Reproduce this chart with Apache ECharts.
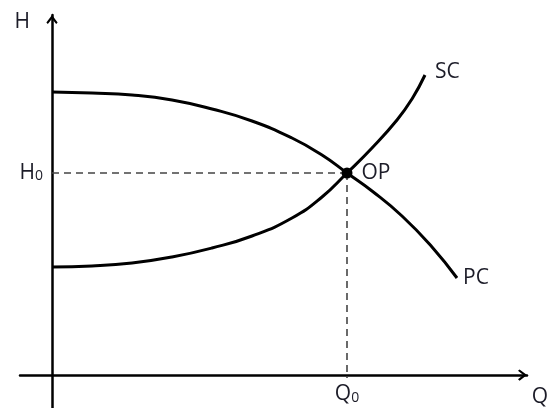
<!DOCTYPE html>
<html>
<head>
<meta charset="utf-8">
<script src="https://cdn.jsdelivr.net/npm/echarts@6/dist/echarts.min.js"></script>
<style>html,body{margin:0;padding:0;background:#fff}#c{width:552px;height:408px}</style>
</head>
<body>
<div id="c"></div>
<script>
// Flow Q (x) vs head H (y), arbitrary units
const pumpCurve = [[0,283],[40,282],[80,280],[120,275],[160,266],[200,254],[240,237],[270,220],[295,202],[320,184],[350,159],[380,128],[405,97]];
const systemCurve = [[0,108],[40,109],[80,112],[120,118],[160,127],[200,139],[240,157],[270,178],[295,202],[320,227],[345,255],[360,276],[373,300]];
const operatingPoint = [295, 202];
const labels = {H:'H', Q:'Q', H0:['H','0'], Q0:['Q','0'], OP:'OP', SC:'SC', PC:'PC'};

const FONT = 'Open Sans';
const TXT = '#1c1c28';
const FS = 21;
const arrow = 'path://M5,0 L10,6.6 L8.7,8 L5,3.3 L1.3,8 L0,6.6 Z';
const subRich = {
  m: {fontFamily: FONT, fontSize: FS, color: TXT},
  s: {fontFamily: FONT, fontSize: 14, color: TXT, padding: [7,0,0,0]}
};
const axisLine = {onZero: true, symbol: ['none', arrow], symbolSize: [13, 9], symbolOffset: [0, -4.5],
  lineStyle: {color: '#000', width: 2.5}};

const chart = echarts.init(document.getElementById('c'));
chart.setOption({
  animation: false,
  backgroundColor: '#fff',
  grid: {left: 20, right: 25, top: 15, bottom: 0, outerBoundsMode: 'none', containLabel: false},
  xAxis: {
    type: 'value', min: -32, max: 475,
    name: labels.Q, nameLocation: 'end', nameGap: 13,
    nameTextStyle: {fontFamily: FONT, fontSize: FS, color: TXT, align: 'center', verticalAlign: 'top', padding: [12,0,0,0]},
    axisLine: axisLine,
    axisTick: {show: false},
    axisLabel: {show: true, customValues: [operatingPoint[0]], margin: -24,
      formatter: () => '{m|' + labels.Q0[0] + '}{s|' + labels.Q0[1] + '}', rich: subRich},
    splitLine: {show: false}
  },
  yAxis: {
    type: 'value', min: -33, max: 360,
    name: labels.H, nameLocation: 'end', nameGap: -7,
    nameTextStyle: {fontFamily: FONT, fontSize: FS, color: TXT, align: 'right', verticalAlign: 'middle', padding: [0,22,0,0]},
    axisLine: axisLine,
    axisTick: {show: false},
    axisLabel: {show: true, customValues: [operatingPoint[1]], margin: -23,
      formatter: () => '{m|' + labels.H0[0] + '}{s|' + labels.H0[1] + '}', rich: subRich},
    splitLine: {show: false}
  },
  series: [
    {type: 'line', name: 'PC', data: pumpCurve, smooth: 0.5, symbol: 'none',
      lineStyle: {color: '#000', width: 3}, z: 3,
      endLabel: {show: true, formatter: labels.PC, distance: 6, fontFamily: FONT, fontSize: FS, color: TXT}},
    {type: 'line', name: 'SC', data: systemCurve, smooth: 0.5, symbol: 'none',
      lineStyle: {color: '#000', width: 3}, z: 3,
      endLabel: {show: true, formatter: labels.SC, distance: 10, offset: [0,-3], fontFamily: FONT, fontSize: FS, color: TXT}},
    {type: 'line', data: [[0, operatingPoint[1]], operatingPoint], symbol: 'none',
      lineStyle: {color: '#444', width: 1.6, type: [7,5]}, z: 2},
    {type: 'line', data: [operatingPoint, [operatingPoint[0], -3]], symbol: 'none',
      lineStyle: {color: '#444', width: 1.6, type: [7,5]}, z: 2},
    {type: 'scatter', data: [operatingPoint], symbolSize: 11, itemStyle: {color: '#000', opacity: 1}, z: 5,
      label: {show: true, position: 'right', distance: 9, formatter: labels.OP, fontFamily: FONT, fontSize: FS,
        color: TXT, opacity: 1, textBorderWidth: 0}}
  ]
});
</script>
</body>
</html>
